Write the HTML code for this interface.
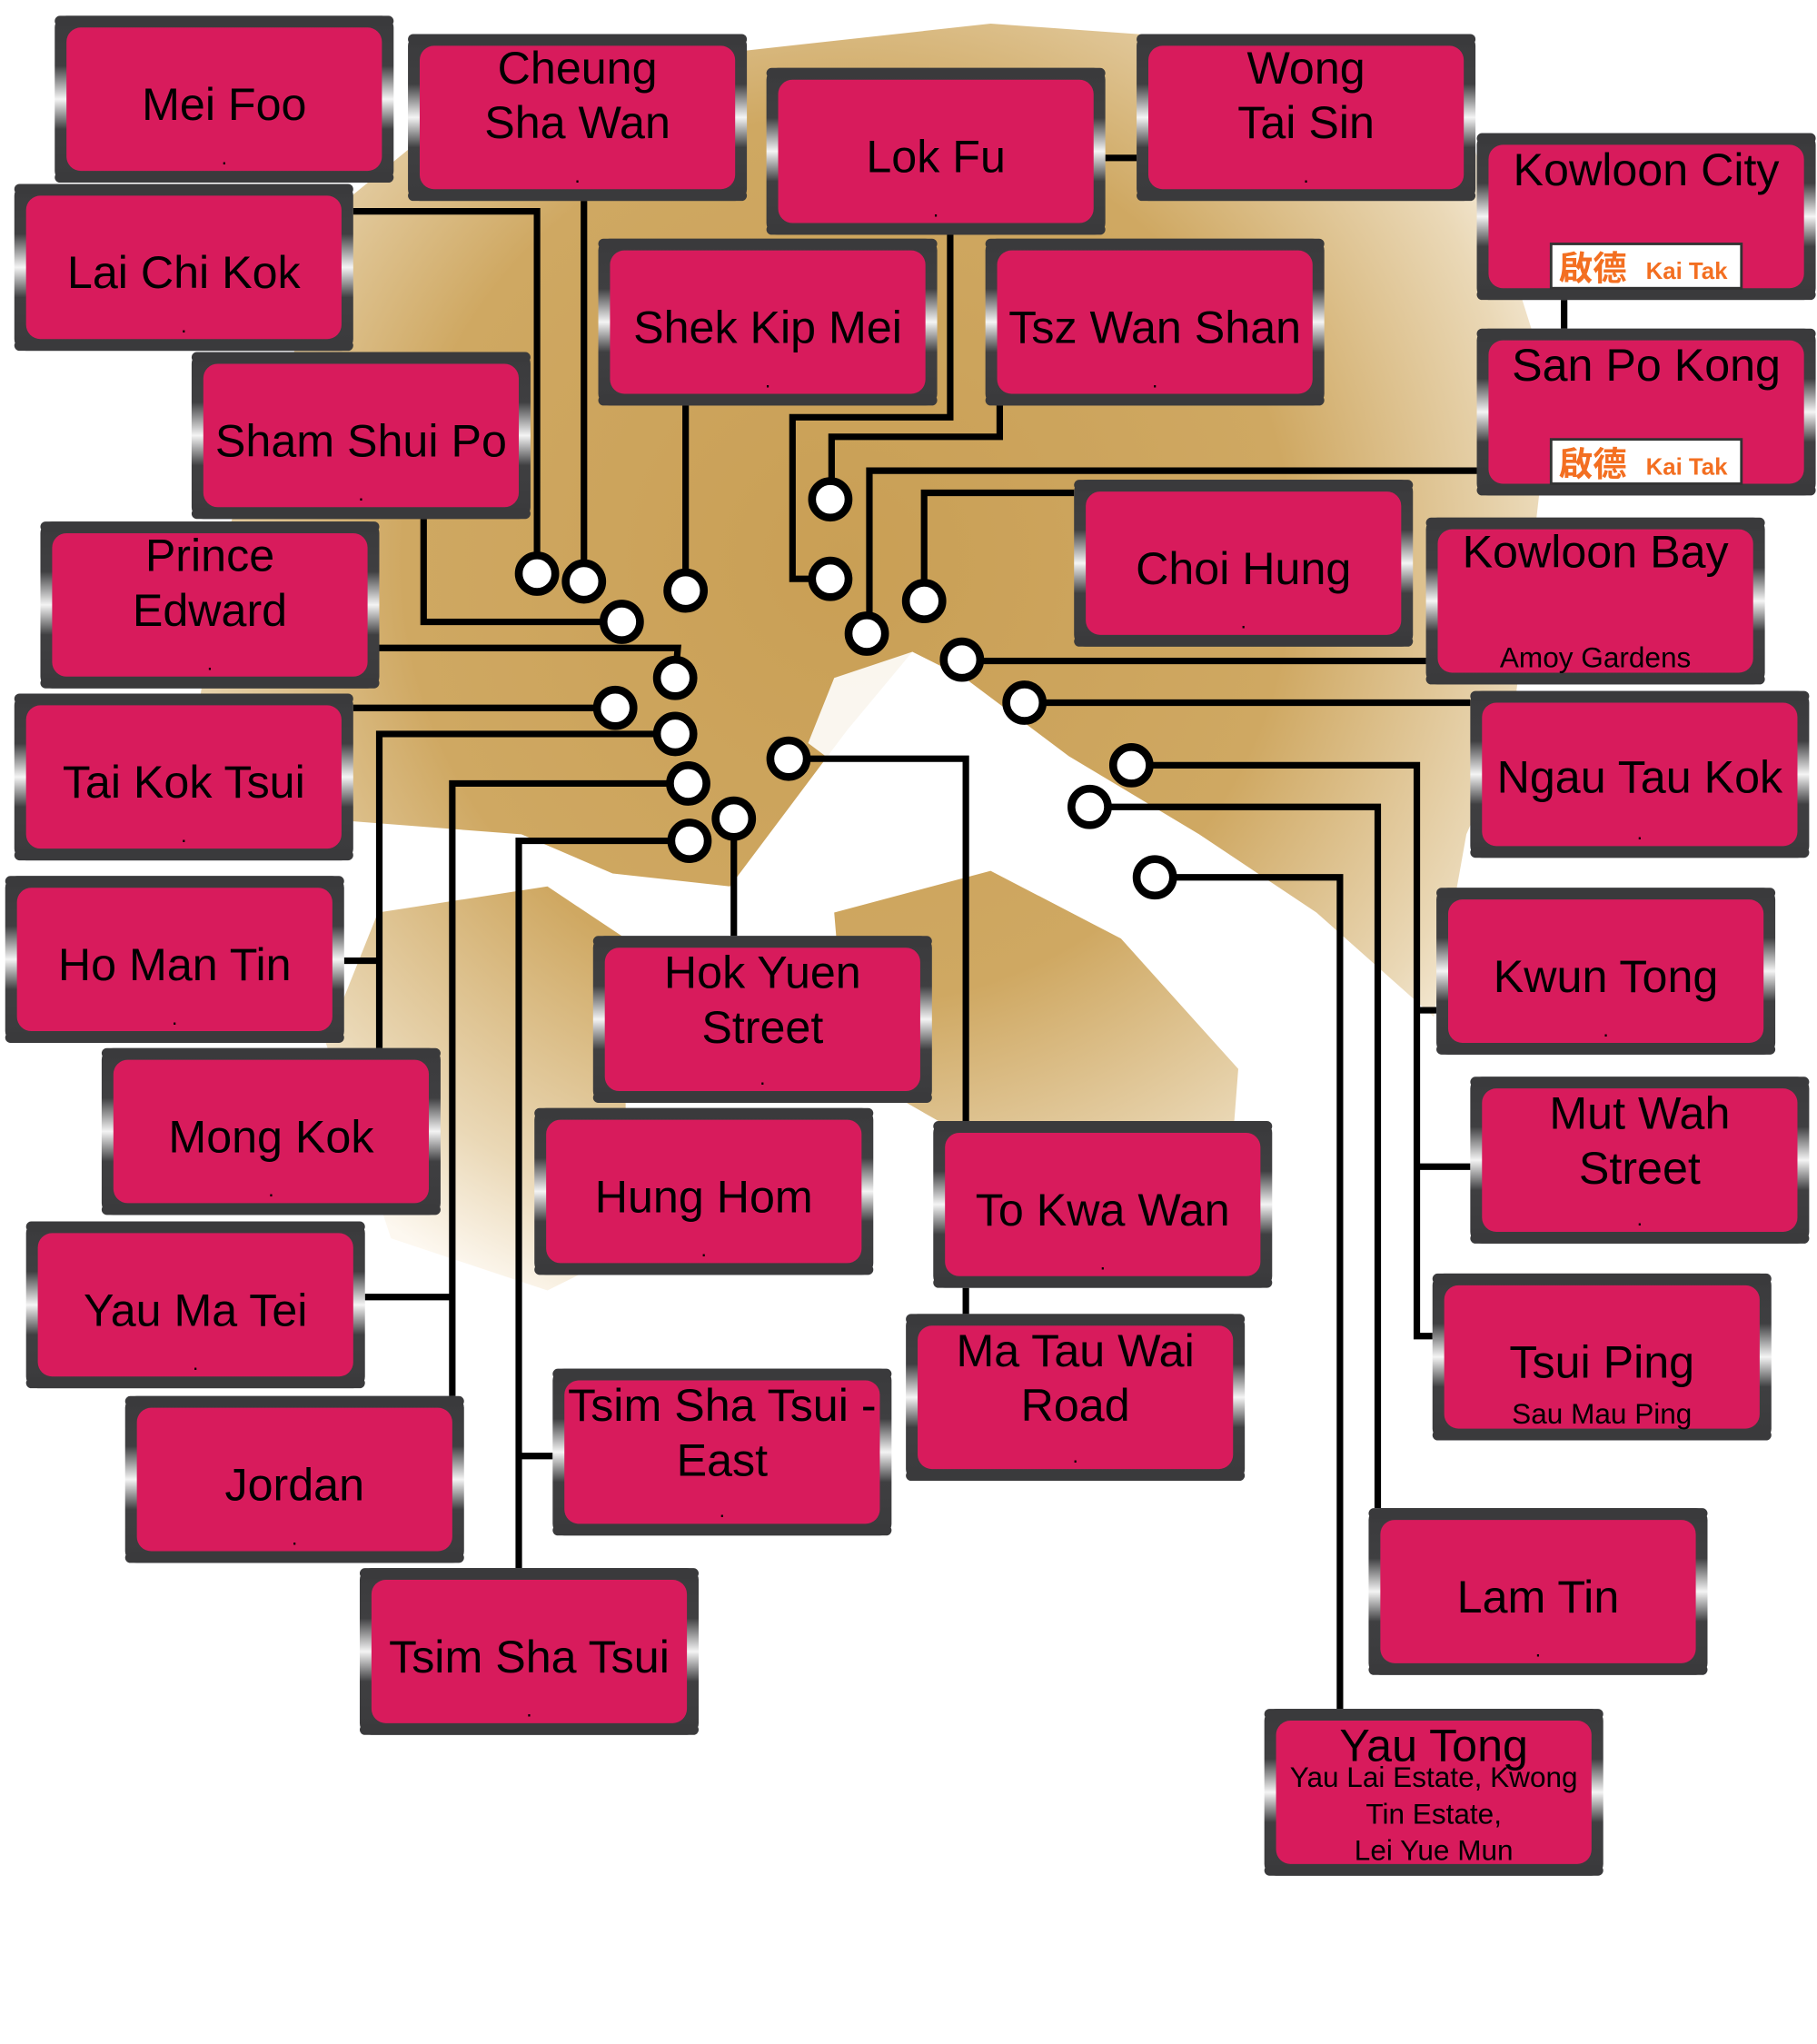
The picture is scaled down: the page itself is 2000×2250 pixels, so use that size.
<!DOCTYPE html>
<html><head><meta charset="utf-8"><style>
html,body{margin:0;padding:0;background:#fff;}
svg{display:block;}
text{font-family:"Liberation Sans","Noto Sans CJK TC",sans-serif;fill:#000;text-anchor:middle;}
.t{font-size:35px;}
.s{font-size:22px;}
.d{font-size:16px;}
.ln{fill:none;stroke:#000;stroke-width:5;}
.dot{fill:#fff;stroke:#000;stroke-width:6;}
</style></head><body>
<svg width="2000" height="2250" viewBox="0 0 1394 1568" xmlns="http://www.w3.org/2000/svg">
<defs>
<radialGradient id="land" cx="650" cy="430" r="620" gradientUnits="userSpaceOnUse">
<stop offset="0" stop-color="#c99f55"/><stop offset="0.55" stop-color="#cfa862"/><stop offset="0.85" stop-color="#ead8b6"/><stop offset="1" stop-color="#fdf8f0"/></radialGradient>
<linearGradient id="edge" x1="0" y1="0" x2="0" y2="1">
<stop offset="0" stop-color="#3a3a3c"/><stop offset="0.3" stop-color="#3f3f41"/><stop offset="0.5" stop-color="#f4f4f4"/><stop offset="0.68" stop-color="#3f3f41"/><stop offset="1" stop-color="#3a3a3c"/></linearGradient>
<g id="bx"><rect x="0" y="0" width="260" height="128" rx="9" fill="url(#edge)"/><rect x="0" y="0" width="260" height="8" rx="4" fill="#3a3a3c"/><rect x="0" y="120" width="260" height="8" rx="4" fill="#3a3a3c"/><rect x="9" y="9" width="242" height="110" rx="11" fill="#d81b5c"/></g>
<g id="kt"><rect x="0" y="0" width="146" height="34" fill="#fff" stroke="#333" stroke-width="2"/><text x="32" y="28" style="font-size:26px;fill:#f36f21;font-weight:bold">啟德</text><text x="104" y="27" style="font-size:18px;fill:#f36f21;font-weight:bold">Kai Tak</text></g>
</defs>
<!-- map -->
<path fill="url(#land)" d="M270,150 L380,60 L560,40 L760,18 L900,28 L1130,110 L1190,300 L1160,560 L1125,640 L1100,780 L1010,700 L920,640 L820,580 L740,520 L700,500 L650,560 L620,600 L560,680 L470,670 L400,640 L270,630 L150,560 L170,420 Z"/>
<path fill="url(#land)" d="M290,700 L420,680 L480,720 L480,960 L420,990 L300,950 L250,800 Z"/>
<path fill="url(#land)" d="M640,700 L760,668 L860,720 L950,820 L945,885 L800,865 L720,860 L650,820 Z"/>
<path fill="#fff" d="M700,500 L640,520 L620,570 L660,600 L700,590 L760,600 L800,620 L740,560 Z" opacity="0.9"/>
<!-- connectors -->
<polyline class="ln" points="271,162 412,162 412,440"/>
<polyline class="ln" points="448,154 448,446"/>
<polyline class="ln" points="526,311 526,453"/>
<polyline class="ln" points="325,398 325,477 477,477"/>
<polyline class="ln" points="291,497 520,497 518,520"/>
<polyline class="ln" points="271,543 472,543"/>
<polyline class="ln" points="291,804 291,563 518,563"/>
<polyline class="ln" points="264,737 291,737"/>
<polyline class="ln" points="347,1071 347,601 528,601"/>
<polyline class="ln" points="280,995 347,995"/>
<polyline class="ln" points="398,1203 398,645 529,645"/>
<polyline class="ln" points="424,1117 398,1117"/>
<polyline class="ln" points="563,628 563,718"/>
<polyline class="ln" points="729,180 729,320 608,320 608,444 637,444"/>
<polyline class="ln" points="767,311 767,335 638,335 638,383"/>
<polyline class="ln" points="1133,361 667,361 667,486"/>
<polyline class="ln" points="824,378 709,378 709,461"/>
<polyline class="ln" points="738,507 1094,507"/>
<polyline class="ln" points="848,121 872,121"/>
<polyline class="ln" points="1200,230 1200,252"/>
<polyline class="ln" points="786,539 1128,539"/>
<polyline class="ln" points="868,587 1087,587 1087,1025 1099,1025"/>
<polyline class="ln" points="1087,775 1102,775"/>
<polyline class="ln" points="1087,895 1128,895"/>
<polyline class="ln" points="836,619 1057,619 1057,1157"/>
<polyline class="ln" points="886,673 1028,673 1028,1311"/>
<polyline class="ln" points="605,582 741,582 741,860"/>
<polyline class="ln" points="741,988 741,1008"/>
<!-- dots -->
<g class="dot">
<circle cx="412" cy="440" r="14"/><circle cx="448" cy="446" r="14"/><circle cx="526" cy="453" r="14"/><circle cx="477" cy="477" r="14"/>
<circle cx="518" cy="520" r="14"/><circle cx="472" cy="543" r="14"/><circle cx="518" cy="563" r="14"/><circle cx="528" cy="601" r="14"/>
<circle cx="563" cy="628" r="14"/><circle cx="529" cy="645" r="14"/><circle cx="637" cy="383" r="14"/><circle cx="637" cy="444" r="14"/>
<circle cx="665" cy="486" r="14"/><circle cx="709" cy="461" r="14"/><circle cx="738" cy="506" r="14"/><circle cx="786" cy="539" r="14"/>
<circle cx="605" cy="582" r="14"/><circle cx="868" cy="587" r="14"/><circle cx="836" cy="619" r="14"/><circle cx="886" cy="673" r="14"/>
</g>
<!-- boxes -->
<g transform="translate(42,12)"><use href="#bx"/><text class="t" x="130" y="80">Mei Foo</text><text class="d" x="130" y="114">.</text></g>
<g transform="translate(313,26)"><use href="#bx"/><text class="t" x="130" y="38">Cheung</text><text class="t" x="130" y="80">Sha Wan</text><text class="d" x="130" y="114">.</text></g>
<g transform="translate(588,52)"><use href="#bx"/><text class="t" x="130" y="80">Lok Fu</text><text class="d" x="130" y="114">.</text></g>
<g transform="translate(872,26)"><use href="#bx"/><text class="t" x="130" y="38">Wong</text><text class="t" x="130" y="80">Tai Sin</text><text class="d" x="130" y="114">.</text></g>
<g transform="translate(1133,102)"><use href="#bx"/><text class="t" x="130" y="40">Kowloon City</text><use href="#kt" x="57" y="85"/></g>
<g transform="translate(11,141)"><use href="#bx"/><text class="t" x="130" y="80">Lai Chi Kok</text><text class="d" x="130" y="114">.</text></g>
<g transform="translate(459,183)"><use href="#bx"/><text class="t" x="130" y="80">Shek Kip Mei</text><text class="d" x="130" y="114">.</text></g>
<g transform="translate(756,183)"><use href="#bx"/><text class="t" x="130" y="80">Tsz Wan Shan</text><text class="d" x="130" y="114">.</text></g>
<g transform="translate(1133,252)"><use href="#bx"/><text class="t" x="130" y="40">San Po Kong</text><use href="#kt" x="57" y="85"/></g>
<g transform="translate(147,270)"><use href="#bx"/><text class="t" x="130" y="80">Sham Shui Po</text><text class="d" x="130" y="114">.</text></g>
<g transform="translate(824,368)"><use href="#bx"/><text class="t" x="130" y="80">Choi Hung</text><text class="d" x="130" y="114">.</text></g>
<g transform="translate(1094,397)"><use href="#bx"/><text class="t" x="130" y="38">Kowloon Bay</text><text class="s" x="130" y="115">Amoy Gardens</text></g>
<g transform="translate(31,400)"><use href="#bx"/><text class="t" x="130" y="38">Prince</text><text class="t" x="130" y="80">Edward</text><text class="d" x="130" y="114">.</text></g>
<g transform="translate(11,532)"><use href="#bx"/><text class="t" x="130" y="80">Tai Kok Tsui</text><text class="d" x="130" y="114">.</text></g>
<g transform="translate(1128,530)"><use href="#bx"/><text class="t" x="130" y="78">Ngau Tau Kok</text><text class="d" x="130" y="114">.</text></g>
<g transform="translate(4,672)"><use href="#bx"/><text class="t" x="130" y="80">Ho Man Tin</text><text class="d" x="130" y="114">.</text></g>
<g transform="translate(1102,681)"><use href="#bx"/><text class="t" x="130" y="80">Kwun Tong</text><text class="d" x="130" y="114">.</text></g>
<g transform="translate(455,718)"><use href="#bx"/><text class="t" x="130" y="40">Hok Yuen</text><text class="t" x="130" y="82">Street</text><text class="d" x="130" y="114">.</text></g>
<g transform="translate(78,804)"><use href="#bx"/><text class="t" x="130" y="80">Mong Kok</text><text class="d" x="130" y="114">.</text></g>
<g transform="translate(1128,826)"><use href="#bx"/><text class="t" x="130" y="40">Mut Wah</text><text class="t" x="130" y="82">Street</text><text class="d" x="130" y="114">.</text></g>
<g transform="translate(410,850)"><use href="#bx"/><text class="t" x="130" y="80">Hung Hom</text><text class="d" x="130" y="114">.</text></g>
<g transform="translate(716,860)"><use href="#bx"/><text class="t" x="130" y="80">To Kwa Wan</text><text class="d" x="130" y="114">.</text></g>
<g transform="translate(20,937)"><use href="#bx"/><text class="t" x="130" y="80">Yau Ma Tei</text><text class="d" x="130" y="114">.</text></g>
<g transform="translate(1099,977)"><use href="#bx"/><text class="t" x="130" y="80">Tsui Ping</text><text class="s" x="130" y="115">Sau Mau Ping</text></g>
<g transform="translate(695,1008)"><use href="#bx"/><text class="t" x="130" y="40">Ma Tau Wai</text><text class="t" x="130" y="82">Road</text><text class="d" x="130" y="114">.</text></g>
<g transform="translate(424,1050)"><use href="#bx"/><text class="t" x="130" y="40">Tsim Sha Tsui -</text><text class="t" x="130" y="82">East</text><text class="d" x="130" y="114">.</text></g>
<g transform="translate(96,1071)"><use href="#bx"/><text class="t" x="130" y="80">Jordan</text><text class="d" x="130" y="114">.</text></g>
<g transform="translate(1050,1157)"><use href="#bx"/><text class="t" x="130" y="80">Lam Tin</text><text class="d" x="130" y="114">.</text></g>
<g transform="translate(276,1203)"><use href="#bx"/><text class="t" x="130" y="80">Tsim Sha Tsui</text><text class="d" x="130" y="114">.</text></g>
<g transform="translate(970,1311)"><use href="#bx"/><text class="t" x="130" y="40">Yau Tong</text><text class="s" x="130" y="60">Yau Lai Estate, Kwong</text><text class="s" x="130" y="88">Tin Estate,</text><text class="s" x="130" y="116">Lei Yue Mun</text></g>
</svg>
</body></html>
